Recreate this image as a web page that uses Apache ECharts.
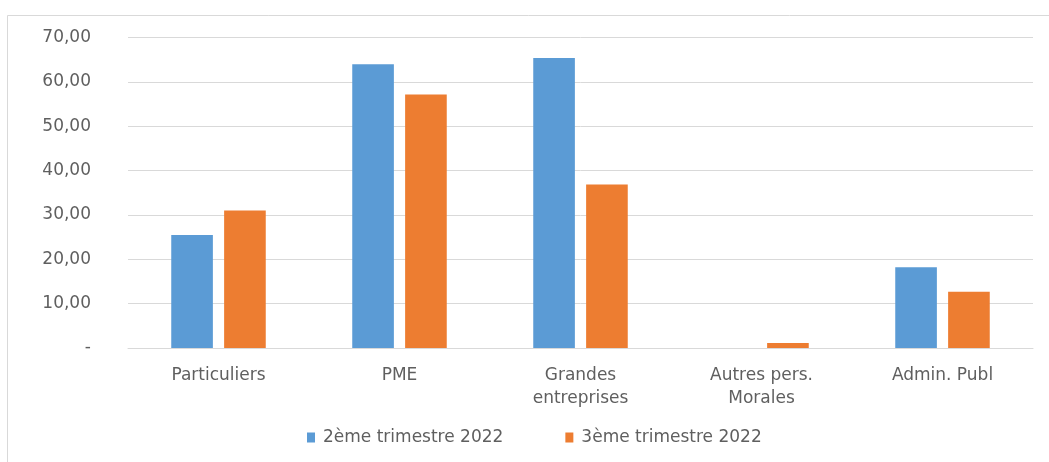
<!DOCTYPE html>
<html>
<head>
<meta charset="utf-8">
<script src="https://cdn.jsdelivr.net/npm/echarts@6/dist/echarts.min.js"></script>
<style>html,body{margin:0;padding:0;background:#fff;}#c{width:1049px;height:462px;}</style>
</head>
<body>
<div id="c"></div>
<script>
const categories = ['Particuliers', 'PME', 'Grandes\nentreprises', 'Autres pers.\nMorales', 'Admin. Publ'];
const seriesNames = ['2ème trimestre 2022', '3ème trimestre 2022'];
const q2Values = [25.5, 64.0, 65.4, 0, 18.2];
const q3Values = [31.0, 57.2, 36.9, 1.1, 12.7];
const colors = ['#5B9BD5', '#ED7D31'];

const chart = echarts.init(document.getElementById('c'), null, {renderer: 'canvas'});
chart.setOption({
  animation: false,
  backgroundColor: '#fff',
  textStyle: {fontFamily: '"DejaVu Sans", "Open Sans", sans-serif'},
  graphic: [{
    type: 'rect', shape: {x: 7.5, y: 15.5, width: 1100, height: 500},
    style: {fill: 'none', stroke: '#d9d9d9', lineWidth: 1}, silent: true
  }],
  grid: {left: 128, right: 16, top: 37.7, bottom: 114},
  legend: {
    data: seriesNames, top: 424, left: 302,
    itemWidth: 8, itemHeight: 10, itemGap: 62, icon: 'rect',
    textStyle: {color: '#5f5f5f', fontSize: 17, padding: [0, 0, 0, 3]}
  },
  xAxis: {
    type: 'category', data: categories,
    axisLine: {lineStyle: {color: '#d9d9d9'}},
    axisTick: {show: false},
    axisLabel: {color: '#5f5f5f', fontSize: 17, margin: 16, lineHeight: 23}
  },
  yAxis: {
    type: 'value', min: 0, max: 70, interval: 10,
    axisLine: {show: false}, axisTick: {show: false},
    splitLine: {lineStyle: {color: '#d9d9d9'}},
    axisLabel: {
      color: '#5f5f5f', fontSize: 17, margin: 37,
      formatter: v => v === 0 ? '-' : v.toFixed(2).replace('.', ',')
    }
  },
  series: [
    {name: seriesNames[0], type: 'bar', data: q2Values, itemStyle: {color: colors[0]}, barWidth: '23%', barGap: '27%'},
    {name: seriesNames[1], type: 'bar', data: q3Values, itemStyle: {color: colors[1]}, barWidth: '23%', barGap: '27%'}
  ]
});
</script>
</body>
</html>
